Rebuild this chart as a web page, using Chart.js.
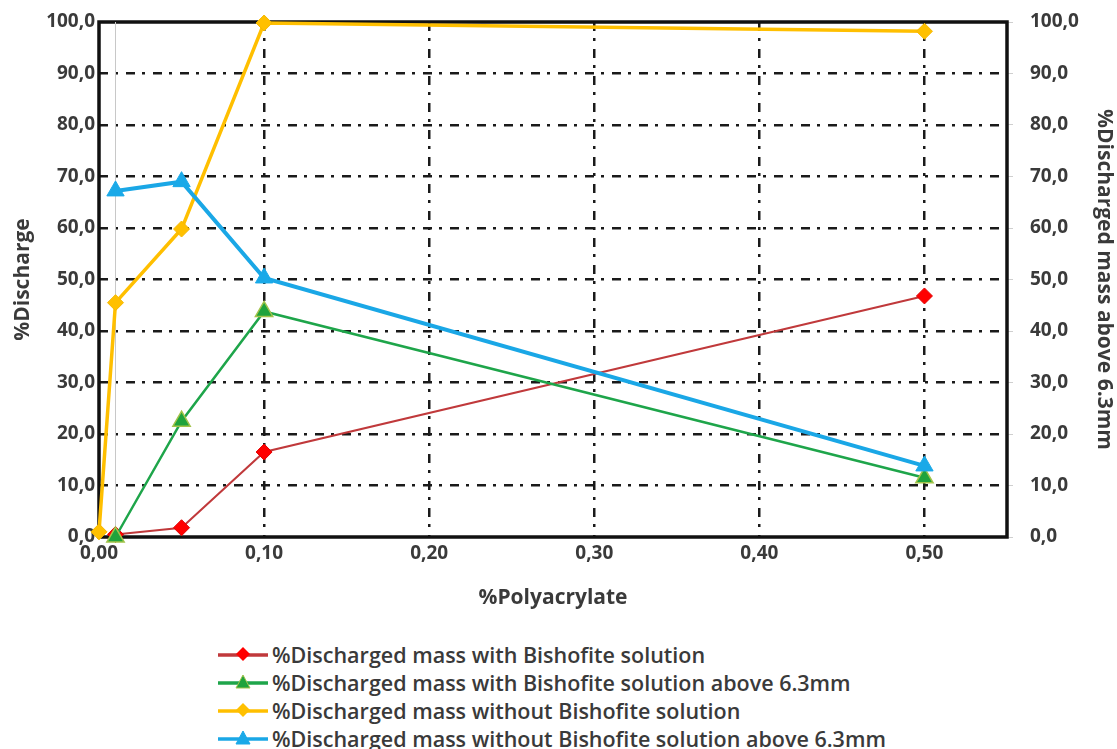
<!DOCTYPE html>
<html>
<head>
<meta charset="utf-8">
<script src="https://cdn.jsdelivr.net/npm/chart.js@4/dist/chart.umd.min.js"></script>
<style>
    body { margin: 0; background: #fff; font-family: "Open Sans", sans-serif; }
    #wrap { position: relative; width: 1117px; height: 611px; }
    #legend { position: absolute; left: 218px; top: 640px; }
    .item { display: flex; align-items: center; height: 28px; font-size: 21.5px; font-weight: 600; color: #3a3a3a; white-space: nowrap; }
    .item svg { margin-right: 4px; }
</style>
</head>
<body>
<div id="wrap"><canvas id="chart"></canvas></div>
<div id="legend"></div>
<script>
// Данные
const polyacrylate = [0.00, 0.01, 0.05, 0.10, 0.50];
const withBishofite = [null, 0.5, 1.8, 16.5, 46.8];
const withBishofiteAbove = [null, 0.0, 22.5, 43.8, 11.5];
const withoutBishofite = [1.0, 45.5, 59.8, 99.8, 98.2];
const withoutBishofiteAbove = [null, 67.2, 69.0, 50.3, 13.8];
const refLineX = [0.01, 0.01];
const refLineY = [0, 100];
const seriesNames = [
    '%Discharged mass with Bishofite solution',
    '%Discharged mass with Bishofite solution above 6.3mm',
    '%Discharged mass without Bishofite solution',
    '%Discharged mass without Bishofite solution above 6.3mm'
];

function toPoints(xs, ys) {
    return xs.map((x, i) => ({ x: x, y: ys[i] })).filter(p => p.y !== null);
}

const TEXT = '#3a3a3a';
const tickFont = { family: 'Open Sans', size: 19, weight: 'bold' };
const titleFont = { family: 'Open Sans', size: 21, weight: 'bold' };
const DASH = [9, 7, 3, 8];
const comma = (v, d) => v.toFixed(d).replace('.', ',');

// Рамка области построения
const framePlugin = {
    id: 'frame',
    beforeDatasetsDraw(chart) {
        const a = chart.chartArea;
        const ctx = chart.ctx;
        ctx.save();
        ctx.strokeStyle = '#111';
        ctx.lineWidth = 3.5;
        ctx.strokeRect(a.left, a.top, a.right - a.left, a.bottom - a.top);
        ctx.restore();
    }
};

const datasets = [
    {
        label: seriesNames[0],
        data: toPoints(polyacrylate, withBishofite),
        borderColor: '#c0393b', borderWidth: 2,
        pointStyle: 'rectRot', pointRadius: 8,
        pointBackgroundColor: '#ff0000', pointBorderColor: '#e00000', pointBorderWidth: 1,
        order: 4
    },
    {
        label: seriesNames[1],
        data: toPoints(polyacrylate, withBishofiteAbove),
        borderColor: '#1ea54a', borderWidth: 2.5,
        pointStyle: 'triangle', pointRadius: 10,
        pointBackgroundColor: '#1fa33c', pointBorderColor: '#a3c34a', pointBorderWidth: 1.5,
        order: 3
    },
    {
        label: seriesNames[2],
        data: toPoints(polyacrylate, withoutBishofite),
        borderColor: '#ffbf00', borderWidth: 3.5,
        pointStyle: 'rectRot', pointRadius: 8,
        pointBackgroundColor: '#ffc000', pointBorderColor: '#f5b800', pointBorderWidth: 1,
        order: 2
    },
    {
        label: seriesNames[3],
        data: toPoints(polyacrylate, withoutBishofiteAbove),
        borderColor: '#1aa7e6', borderWidth: 4,
        pointStyle: 'triangle', pointRadius: 10,
        pointBackgroundColor: '#1aa9e8', pointBorderColor: '#1aa9e8', pointBorderWidth: 1,
        order: 1
    },
    {
        label: 'ref',
        data: toPoints(refLineX, refLineY),
        borderColor: '#c8c8c8', borderWidth: 1,
        pointRadius: 0,
        order: 10
    }
];
datasets.forEach(ds => { ds.clip = false; });

// Убираем лишний отступ сверху, который даёт padding подписей
function fitVertical(width) {
    return s => { s.width = width; s.paddingTop = 0; s.paddingBottom = 0; };
}

const chart = new Chart(document.getElementById('chart'), {
    type: 'line',
    data: { datasets: datasets },
    plugins: [framePlugin],
    options: {
        responsive: true,
        maintainAspectRatio: false,
        animation: false,
        layout: { padding: { top: 22, left: 0, right: 0, bottom: 0 } },
        plugins: {
            legend: { display: false },
            tooltip: { enabled: false }
        },
        scales: {
            x: {
                type: 'linear',
                min: 0, max: 0.55,
                afterFit: s => { s.height = 74; },
                ticks: {
                    stepSize: 0.1, includeBounds: false, padding: 5,
                    color: TEXT, font: tickFont,
                    callback: v => comma(v, 2)
                },
                border: { display: false, dash: DASH },
                grid: {
                    drawTicks: false, lineWidth: 2.5,
                    color: c => c.tick && c.tick.value === 0 ? 'rgba(0,0,0,0)' : '#1a1a1a'
                },
                title: {
                    display: true, text: '%Polyacrylate', color: TEXT,
                    font: titleFont,
                    padding: { top: 0, bottom: 0 }
                }
            },
            y: {
                position: 'left',
                min: 0, max: 100,
                afterFit: fitVertical(99),
                ticks: {
                    stepSize: 10, padding: 4,
                    color: TEXT, font: tickFont,
                    callback: v => comma(v, 1)
                },
                border: { display: false, dash: DASH },
                grid: {
                    drawTicks: false, lineWidth: 2.5,
                    color: c => c.tick && (c.tick.value === 0 || c.tick.value === 100) ? 'rgba(0,0,0,0)' : '#1a1a1a'
                },
                title: {
                    display: true, text: '%Discharge', color: TEXT,
                    font: titleFont,
                    padding: { top: 10, bottom: 0 }
                }
            },
            y2: {
                position: 'right',
                min: 0, max: 100,
                afterFit: fitVertical(110),
                ticks: {
                    stepSize: 10, padding: 17,
                    color: TEXT, font: tickFont,
                    callback: v => comma(v, 1)
                },
                border: { display: false },
                grid: { drawOnChartArea: false, tickLength: 6, color: '#cfcfcf' },
                title: {
                    display: true, text: '%Discharged mass above 6.3mm', color: TEXT,
                    font: titleFont,
                    padding: { top: 0, bottom: 0 }
                }
            }
        }
    }
});

// Легенда в виде HTML под графиком
function markerSvg(ds) {
    const shape = ds.pointStyle === 'triangle'
        ? '<polygon points="25,1 32,14 18,14" fill="' + ds.pointBackgroundColor + '" stroke="' + ds.pointBorderColor + '" stroke-width="1"/>'
        : '<polygon points="25,1 32,8 25,15 18,8" fill="' + ds.pointBackgroundColor + '"/>';
    return '<svg width="50" height="16"><line x1="0" y1="9" x2="50" y2="9" stroke="' + ds.borderColor +
        '" stroke-width="3.5"/>' + shape + '</svg>';
}

const legendEl = document.getElementById('legend');
datasets.slice(0, 4).forEach(ds => {
    const row = document.createElement('div');
    row.className = 'item';
    row.innerHTML = markerSvg(ds) + '<span>' + ds.label + '</span>';
    legendEl.appendChild(row);
});
</script>
</body>
</html>
